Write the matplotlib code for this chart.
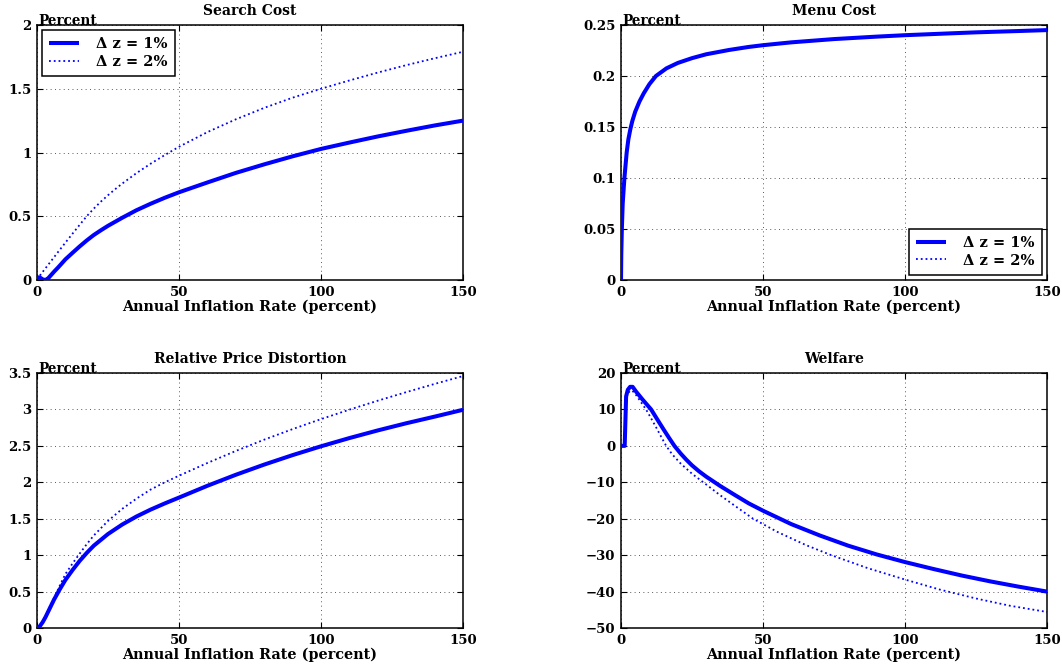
import matplotlib
matplotlib.use('Agg')
import matplotlib.pyplot as plt

# ---------------- data ----------------
titles = ['Search Cost', 'Menu Cost', 'Relative Price Distortion', 'Welfare']
legend_labels = ['\u0394 z = 1%', '\u0394 z = 2%']
x_label = 'Annual Inflation Rate (percent)'
y_unit = 'Percent'

x_ticks = [0, 50, 100, 150]
x_tick_labels = ['0', '50', '100', '150']

search_yticks = [0, 0.5, 1, 1.5, 2]
search_ylabels = ['0', '0.5', '1', '1.5', '2']
menu_yticks = [0, 0.05, 0.1, 0.15, 0.2, 0.25]
menu_ylabels = ['0', '0.05', '0.1', '0.15', '0.2', '0.25']
rpd_yticks = [0, 0.5, 1, 1.5, 2, 2.5, 3, 3.5]
rpd_ylabels = ['0', '0.5', '1', '1.5', '2', '2.5', '3', '3.5']
welfare_yticks = [-50, -40, -30, -20, -10, 0, 10, 20]
welfare_ylabels = ['\u221250', '\u221240', '\u221230', '\u221220', '\u221210', '0', '10', '20']

# Search cost
search_x1 = [0, 1, 2, 3, 4, 5, 6, 7.5, 10, 12.5, 15, 17.5, 20, 22.5, 25, 30, 35, 40, 45, 50,
             60, 70, 80, 90, 100, 110, 120, 130, 140, 150]
search_y1 = [0.02, 0.02, 0.005, 0.0, 0.015, 0.04, 0.065, 0.10, 0.162, 0.213, 0.263, 0.31, 0.353, 0.39,
             0.425, 0.488, 0.547, 0.598, 0.645, 0.688, 0.765, 0.84, 0.907, 0.97, 1.028, 1.078, 1.126,
             1.17, 1.212, 1.25]
search_x2 = [0, 1, 2.5, 5, 7.5, 10, 12.5, 15, 17.5, 20, 22.5, 25, 27.5, 30, 35, 40, 45, 50,
             60, 70, 80, 90, 100, 110, 120, 130, 140, 150]
search_y2 = [0.005, 0.034, 0.078, 0.15, 0.222, 0.293, 0.363, 0.432, 0.5, 0.56, 0.615, 0.665, 0.712,
             0.756, 0.838, 0.912, 0.98, 1.045, 1.16, 1.26, 1.35, 1.43, 1.5, 1.565, 1.627, 1.685,
             1.739, 1.79]

# Menu cost (the two cases coincide)
menu_x1 = [0, 0.1, 0.3, 0.6, 1.2, 2, 2.6, 3.3, 4, 5, 6.5, 8, 10, 12.3, 16, 20, 25, 30, 38, 45, 50, 60,
           75, 90, 100, 115, 125, 140, 150]
menu_y1 = [0, 0.025, 0.05, 0.075, 0.1, 0.125, 0.138, 0.148, 0.156, 0.165, 0.175, 0.183, 0.192, 0.2,
           0.2075, 0.2128, 0.2175, 0.2213, 0.2255, 0.2285, 0.2302, 0.233, 0.2362, 0.2386, 0.24, 0.2417,
           0.2428, 0.2441, 0.245]
menu_x2 = [0, 0.1, 0.3, 0.6, 1.2, 2, 2.6, 3.3, 4, 5, 6.5, 8, 10, 12.3, 16, 20, 25, 30, 38, 45, 50, 60,
           75, 90, 100, 115, 125, 140, 150]
menu_y2 = [0, 0.025, 0.05, 0.075, 0.1, 0.125, 0.138, 0.148, 0.156, 0.165, 0.175, 0.183, 0.192, 0.2,
           0.2075, 0.2128, 0.2175, 0.2213, 0.2255, 0.2285, 0.2302, 0.233, 0.2362, 0.2386, 0.24, 0.2417,
           0.2428, 0.2441, 0.245]

# Relative price distortion
rpd_x1 = [0, 1, 2, 3, 4.5, 6, 8, 10, 12.5, 15, 17.5, 20, 25, 30, 35, 40, 45, 50,
          60, 70, 80, 90, 100, 110, 120, 130, 140, 150]
rpd_y1 = [0, 0.025, 0.08, 0.15, 0.27, 0.39, 0.53, 0.66, 0.795, 0.92, 1.03, 1.13, 1.29, 1.42, 1.53,
          1.625, 1.71, 1.79, 1.952, 2.103, 2.243, 2.373, 2.494, 2.607, 2.712, 2.81, 2.901, 2.995]
rpd_x2 = [0, 1, 2, 3, 4.5, 6, 8, 10, 12.5, 15, 17.5, 20, 25, 30, 35, 40, 45, 50,
          60, 70, 80, 90, 100, 110, 120, 130, 140, 150]
rpd_y2 = [0, 0.025, 0.085, 0.16, 0.29, 0.41, 0.58, 0.74, 0.885, 1.02, 1.15, 1.27, 1.47, 1.635, 1.775,
          1.9, 2.0, 2.09, 2.265, 2.43, 2.585, 2.73, 2.867, 2.997, 3.12, 3.237, 3.35, 3.458]

# Welfare
welfare_x1 = [0, 1.3, 1.8, 2.4, 3.2, 4.1, 5.3, 7.6, 10.6, 12.5, 15, 17, 18.8, 21, 23, 25, 27.5, 30, 35,
              40, 45, 50, 60, 70, 80, 90, 100, 110, 120, 130, 140, 150]
welfare_y1 = [0, 0, 13.6, 15.4, 16.2, 16.2, 14.9, 12.7, 10, 7.6, 4.5, 2.1, 0, -2.1, -3.8, -5.35, -7.0,
              -8.45, -11.05, -13.45, -15.8, -17.8, -21.5, -24.6, -27.4, -29.8, -31.9, -33.8, -35.6,
              -37.2, -38.65, -40]
welfare_x2 = [0, 1.3, 1.8, 2.4, 3.2, 4, 5, 6.5, 8.8, 10.5, 12.5, 14, 15.9, 18, 21, 25, 28.8, 35, 40,
              46.5, 55, 65, 74, 87, 100, 112, 125, 137, 150]
welfare_y2 = [0, 0, 12.5, 14.4, 15.1, 15.1, 14.3, 12.6, 10, 7.7, 4.9, 2.7, 0, -2.3, -4.85, -7.65, -9.9,
              -13.6, -16.4, -20, -23.6, -27.2, -30, -33.6, -36.7, -39.4, -41.9, -43.9, -45.6]

# ---------------- style ----------------
plt.rcParams['font.family'] = ['DejaVu Serif']
plt.rcParams['font.weight'] = 'bold'
plt.rcParams['axes.titleweight'] = 'bold'
plt.rcParams['axes.labelweight'] = 'bold'

W, H = 1062, 668
fig = plt.figure(figsize=(W / 100, H / 100), dpi=100)

def pos(left, top, right, bottom):
    return [left / W, 1 - bottom / H, (right - left) / W, (bottom - top) / H]

panels = [
    dict(rect=pos(37, 25, 463, 280), title=titles[0], x1=search_x1, y1=search_y1, x2=search_x2, y2=search_y2,
         yticks=search_yticks, ylabels=search_ylabels, ylim=(0, 2), legend='upper left'),
    dict(rect=pos(621, 25, 1047, 280), title=titles[1], x1=menu_x1, y1=menu_y1, x2=menu_x2, y2=menu_y2,
         yticks=menu_yticks, ylabels=menu_ylabels, ylim=(0, 0.25), legend='lower right'),
    dict(rect=pos(37, 373, 463, 628), title=titles[2], x1=rpd_x1, y1=rpd_y1, x2=rpd_x2, y2=rpd_y2,
         yticks=rpd_yticks, ylabels=rpd_ylabels, ylim=(0, 3.5), legend=None),
    dict(rect=pos(621, 373, 1047, 628), title=titles[3], x1=welfare_x1, y1=welfare_y1, x2=welfare_x2,
         y2=welfare_y2, yticks=welfare_yticks, ylabels=welfare_ylabels, ylim=(-50, 20), legend=None),
]

blue = (0, 0, 1)
for p in panels:
    ax = fig.add_axes(p['rect'])
    ax.plot(p['x2'], p['y2'], color=blue, lw=1.3, ls=':', label=legend_labels[1], zorder=2)
    ax.plot(p['x1'], p['y1'], color=blue, lw=2.9, ls='-', label=legend_labels[0], zorder=3,
            solid_joinstyle='round', solid_capstyle='butt')
    ax.set_xlim(0, 150)
    ax.set_ylim(*p['ylim'])
    ax.set_xticks(x_ticks)
    ax.set_xticklabels(x_tick_labels)
    ax.set_yticks(p['yticks'])
    ax.set_yticklabels(p['ylabels'])
    ax.tick_params(direction='in', length=4, width=0.8, top=True, right=True, labelsize=9.5, pad=4)
    for s in ax.spines.values():
        s.set_linewidth(1.1)
    ax.grid(True, linestyle=(0, (1, 3.5)), color='0.35', linewidth=0.7)
    ax.set_axisbelow(True)
    ax.set_title(p['title'], fontsize=10, fontweight='bold', pad=7)
    ax.set_xlabel(x_label, fontsize=10.4, fontweight='bold', labelpad=1)
    ax.text(0.003, 1.0, y_unit, transform=ax.transAxes, ha='left', va='baseline',
            fontsize=9.8, fontweight='bold', clip_on=False, zorder=5)
    if p['legend']:
        handles, labels = ax.get_legend_handles_labels()
        leg = ax.legend(handles[::-1], labels[::-1], loc=p['legend'], fontsize=10.5, frameon=True,
                        fancybox=False, edgecolor='black', framealpha=1, handlelength=2.0,
                        handletextpad=1.2, labelspacing=0.25, borderaxespad=0.35, borderpad=0.5)
        leg.get_frame().set_linewidth(1.1)

fig.savefig('out.png', dpi=100)
